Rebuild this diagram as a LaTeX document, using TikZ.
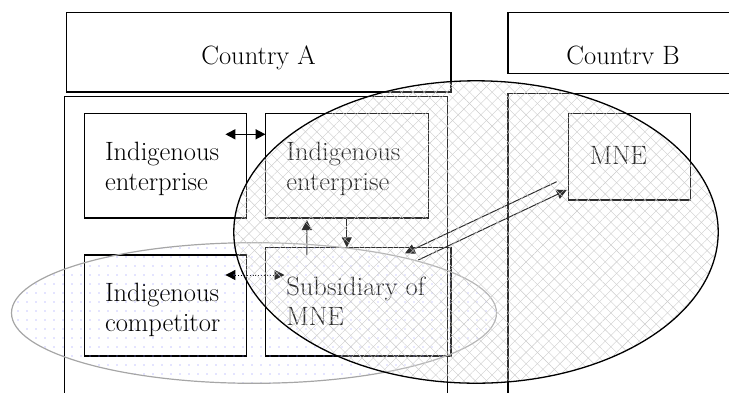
\documentclass[tikz,border=0pt]{standalone}
\usetikzlibrary{arrows.meta,calc,patterns.meta}
\begin{document}
\begin{tikzpicture}[x=1pt,y=-1pt,
  box/.style={draw,line width=1.2pt,inner sep=0,outer sep=0},
  txt/.style={inner sep=0,outer sep=0,align=left,font=\fontsize{26.5}{30}\selectfont},
  tip/.style={-{Triangle[length=10pt,width=10pt]}},
  tips/.style={{Triangle[length=10pt,width=10pt]}-{Triangle[length=10pt,width=10pt]}}]
\useasboundingbox (0,0) rectangle (729,392);
\clip (0,0) rectangle (729,392);
% frames
\node[box,minimum width=384.5pt,minimum height=79.3pt] (ca) at (258.75,52.35) {};
\node[box,minimum width=232pt,minimum height=60.6pt] (cb) at (624,43) {};
\node[box,minimum width=383.1pt,minimum height=323.3pt] (contA) at (256.15,258.35) {};
\node[box,minimum width=232pt,minimum height=326.7pt] (contB) at (624,256.65) {};
\node[txt,anchor=base] (tA) at (258.5,64) {Country A};
\node[txt,anchor=base] (tB) at (623,64) {Countrv B};
% boxes
\node[box,minimum width=161.8pt,minimum height=104.3pt] (ie1) at (165.5,165.85) {};
\node[box,minimum width=162.7pt,minimum height=104.3pt] (ie2) at (346.85,165.85) {};
\node[box,minimum width=161.8pt,minimum height=101pt] (ic) at (165.5,305.5) {};
\node[box,minimum width=185.5pt,minimum height=108.7pt] (sub) at (358.25,301.65) {};
\node[box,minimum width=122.2pt,minimum height=86.3pt] (mne) at (629.7,156.85) {};
\node[txt,anchor=north west] (t1) at (105,142) {Indigenous\\enterprise};
\node[txt,anchor=north west] (t2) at (286.4,142) {Indigenous\\enterprise};
\node[txt,anchor=north west] (t3) at (105,283.5) {Indigenous\\competitor};
\node[txt,anchor=north west] (t4) at (286.4,277) {Subsidiary of\\MNE};
\node[txt,anchor=base west] (t5) at (589.5,164) {MNE};
% connectors
\draw[tips,line width=1.6pt] ($(ie1.north east)+(-21,20.6)$) -- ($(ie2.north west)+(0,20.6)$);
\draw[tip,line width=0.9pt] ($(sub.north west)+(41.3,7.7)$) -- ($(ie2.south west)+(41.3,2)$);
\draw[tip,line width=0.9pt] (ie2.south) -- (ie2.south |- sub.north);
\draw[tips,line width=0.9pt,dotted] ($(ic.north east)+(-21,20)$) -- ($(sub.north west)+(19,27.7)$);
\draw[tip,line width=1pt] ($(mne.south west)+(-11.9,-18.3)$) -- ($(sub.north east)+(-46,6)$);
\draw[tip,line width=1pt] ($(sub.north east)+(-32.7,12.7)$) -- ($(mne.south west)+(-1.9,-10)$);
% ellipses
\path[pattern={Dots[distance=9pt,radius=0.55pt]},pattern color=blue!45] (254,313) ellipse [x radius=242.5pt,y radius=70.3pt];
\draw[gray!70,line width=1.2pt] (254,313) ellipse [x radius=242.5pt,y radius=70.3pt];
\path[fill=white,fill opacity=0.18] (476,232) ellipse [x radius=242.2pt,y radius=151.2pt];
\path[pattern={Lines[angle=45,distance=8pt,line width=0.4pt]},pattern color=gray!40] (476,232) ellipse [x radius=242.2pt,y radius=151.2pt];
\path[pattern={Lines[angle=-45,distance=8pt,line width=0.4pt]},pattern color=gray!40] (476,232) ellipse [x radius=242.2pt,y radius=151.2pt];
\draw[black,line width=1.3pt] (476,232) ellipse [x radius=242.2pt,y radius=151.2pt];
\end{tikzpicture}
\end{document}
